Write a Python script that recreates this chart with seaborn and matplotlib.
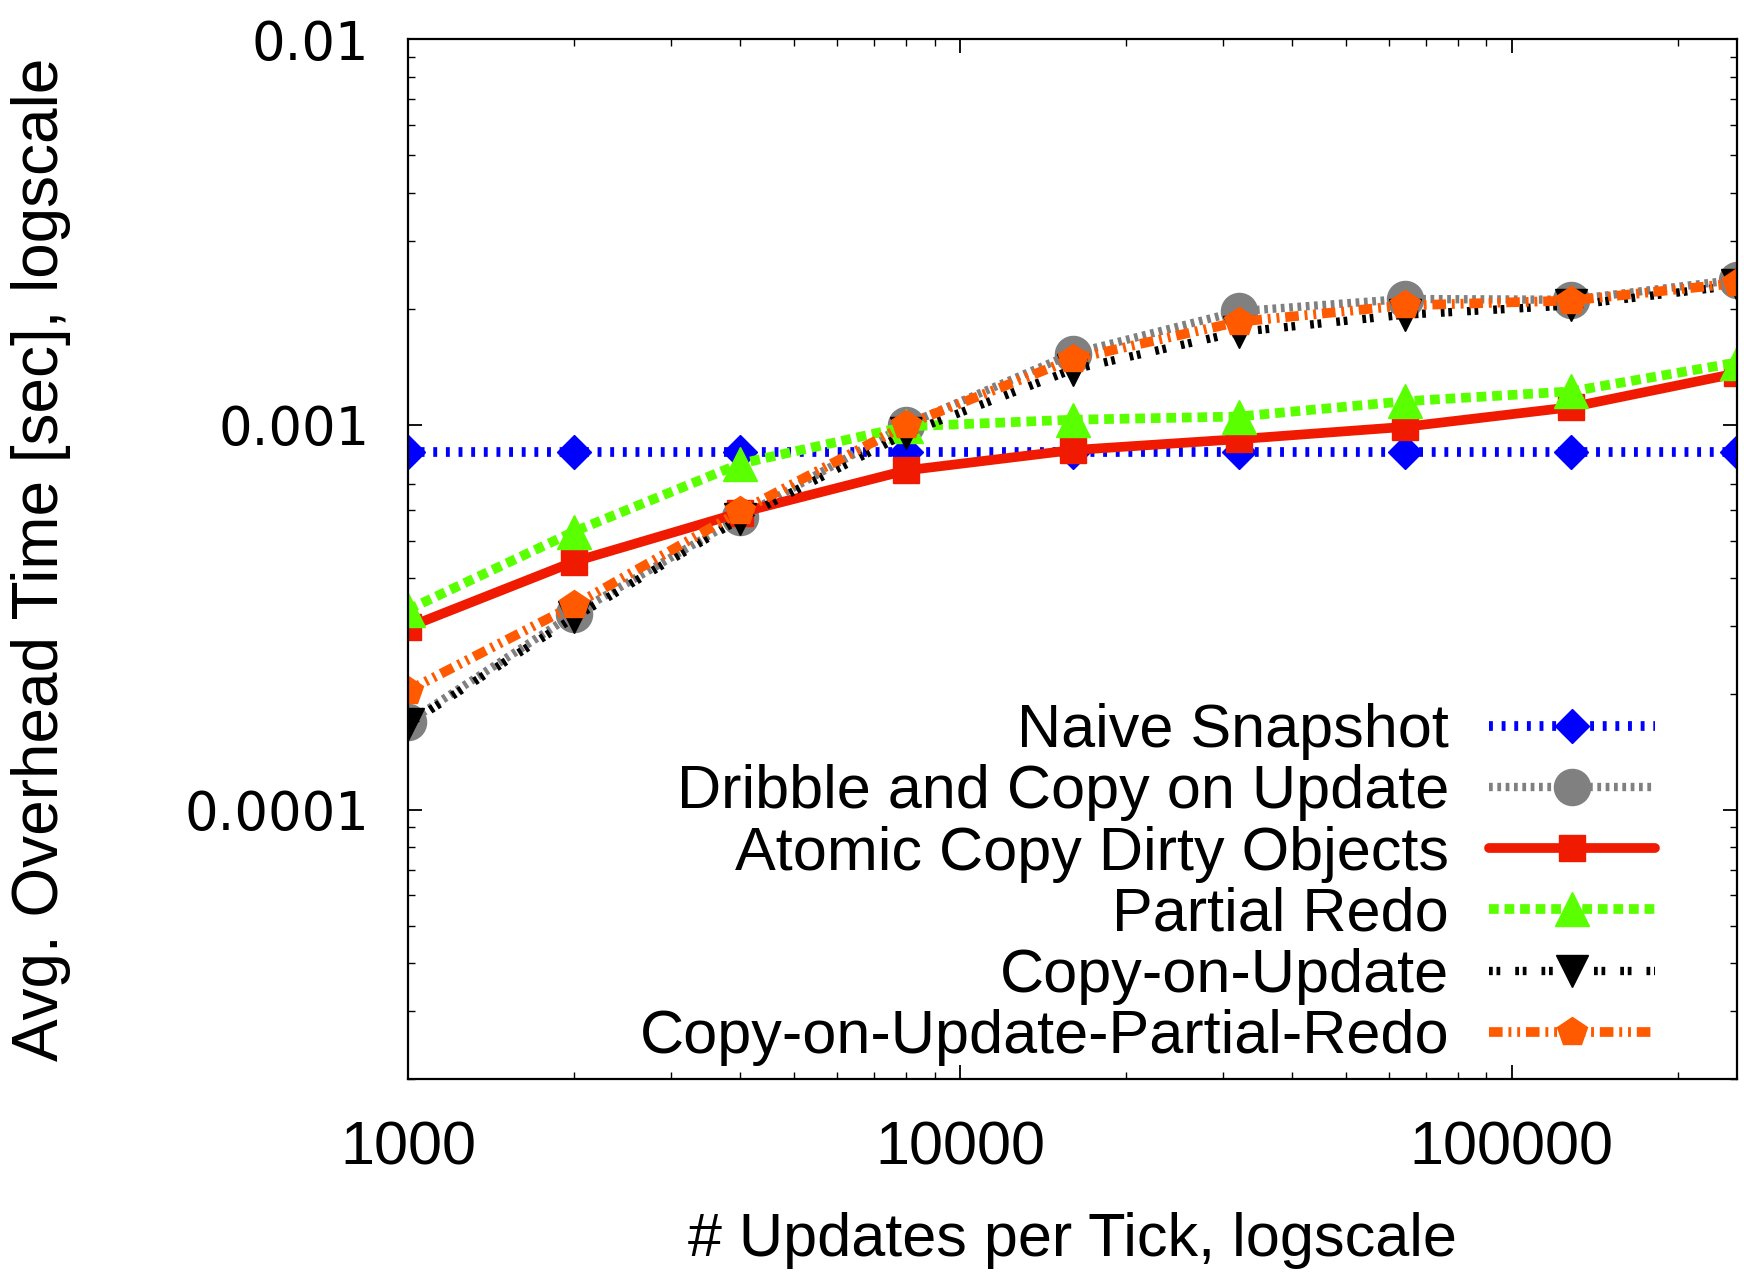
import matplotlib
matplotlib.use("Agg")
import matplotlib.pyplot as plt
import numpy as np
import pandas as pd
import seaborn as sns

# Updates per tick (x) and average overhead time in seconds (y) per strategy
updates = [1000, 2000, 4000, 8000, 16000, 32000, 64000, 128000, 256000]

naive_snapshot = [8.5e-4, 8.5e-4, 8.5e-4, 8.5e-4, 8.5e-4, 8.5e-4, 8.5e-4, 8.5e-4, 8.5e-4]
dribble_copy = [1.69e-4, 3.23e-4, 5.75e-4, 1.0e-3, 1.53e-3, 1.97e-3, 2.12e-3, 2.11e-3, 2.38e-3]
atomic_copy = [2.98e-4, 4.41e-4, 5.91e-4, 7.61e-4, 8.59e-4, 9.17e-4, 9.87e-4, 1.11e-3, 1.36e-3]
partial_redo = [3.31e-4, 5.28e-4, 7.92e-4, 9.9e-4, 1.03e-3, 1.05e-3, 1.15e-3, 1.22e-3, 1.45e-3]
copy_on_update = [1.67e-4, 3.16e-4, 5.7e-4, 9.5e-4, 1.39e-3, 1.74e-3, 1.93e-3, 2.04e-3, 2.3e-3]
cou_partial_redo = [2.04e-4, 3.4e-4, 5.96e-4, 1.0e-3, 1.48e-3, 1.85e-3, 2.04e-3, 2.1e-3, 2.33e-3]

labels = ["Naive Snapshot", "Dribble and Copy on Update", "Atomic Copy Dirty Objects",
          "Partial Redo", "Copy-on-Update", "Copy-on-Update-Partial-Redo"]
values = [naive_snapshot, dribble_copy, atomic_copy, partial_redo, copy_on_update, cou_partial_redo]

colors = ["#0000ff", "#808080", "#f01a00", "#5aff00", "#000000", "#ff5a00"]
markers = ["D", "o", "s", "^", "v", "p"]
marker_sizes = [17, 26, 19, 24, 23, 22]
linestyles = [(0, (0.4, 0.9)), (0, (0.45, 0.55)), "-", (0, (1.0, 0.6)),
              (0, (0.45, 0.45, 0.45, 1.8)), (0, (1.4, 0.6, 0.3, 0.6, 0.3, 0.6))]
linewidths = [7, 6, 7, 7, 6, 7]

sns.set_style("ticks")
plt.rcParams["font.family"] = ["Liberation Sans", "DejaVu Sans"]
plt.rcParams["text.color"] = "black"
plt.rcParams["axes.labelcolor"] = "black"
plt.rcParams["xtick.color"] = "black"
plt.rcParams["ytick.color"] = "black"

fig = plt.figure(figsize=(17.44, 12.74), dpi=100)
ax = fig.add_axes([0.234, 0.153, 0.762, 0.816])

for lab, vals, c, m, ms, ls, lw in zip(labels, values, colors, markers,
                                        marker_sizes, linestyles, linewidths):
    df = pd.DataFrame({"updates": updates, "time": vals})
    sns.lineplot(data=df, x="updates", y="time", ax=ax, color=c, marker=m,
                 markersize=ms, markeredgecolor=c, markeredgewidth=1,
                 linestyle=ls, linewidth=lw, label=lab, legend=False)

ax.set_xscale("log")
ax.set_yscale("log")
ax.set_xlim(1000, 256000)
ax.set_ylim(2e-5, 0.01)

ax.set_xticks([1000, 10000, 100000])
ax.set_xticklabels(["1000", "10000", "100000"])
ax.set_yticks([1e-4, 1e-3, 1e-2])
ax.set_yticklabels(["0.0001", "0.001", "0.01"])

ax.tick_params(axis="both", which="major", direction="in", length=10, width=1.3,
               top=True, right=True, colors="black")
ax.tick_params(axis="both", which="minor", direction="in", length=5, width=1.0,
               top=True, right=True, colors="black")
ax.tick_params(axis="x", which="major", labelsize=44, pad=30)
ax.tick_params(axis="y", which="major", labelsize=38, pad=28)
for t in ax.get_yticklabels():
    t.set_family("DejaVu Sans")

for sp in ax.spines.values():
    sp.set_visible(True)
    sp.set_linewidth(1.6)
    sp.set_color("black")

ax.set_xlabel("# Updates per Tick, logscale", fontsize=44, va="center", color="black")
ax.set_ylabel("Avg. Overhead Time [sec], logscale", fontsize=46, va="center", color="black")
ax.xaxis.set_label_coords(0.5, -0.155)
ax.yaxis.set_label_coords(-0.276, 0.5)

handles = ax.get_lines()
leg = ax.legend(handles=handles, labels=labels, loc="lower right",
                bbox_to_anchor=(0.949, 0.163), bbox_transform=fig.transFigure,
                frameon=False, markerfirst=False, numpoints=1, fontsize=44,
                handlelength=2.72, handletextpad=0.65, labelspacing=0.07,
                borderpad=0, borderaxespad=0)
for t in leg.get_texts():
    t.set_color("black")

fig.savefig("out.png", dpi=100)
